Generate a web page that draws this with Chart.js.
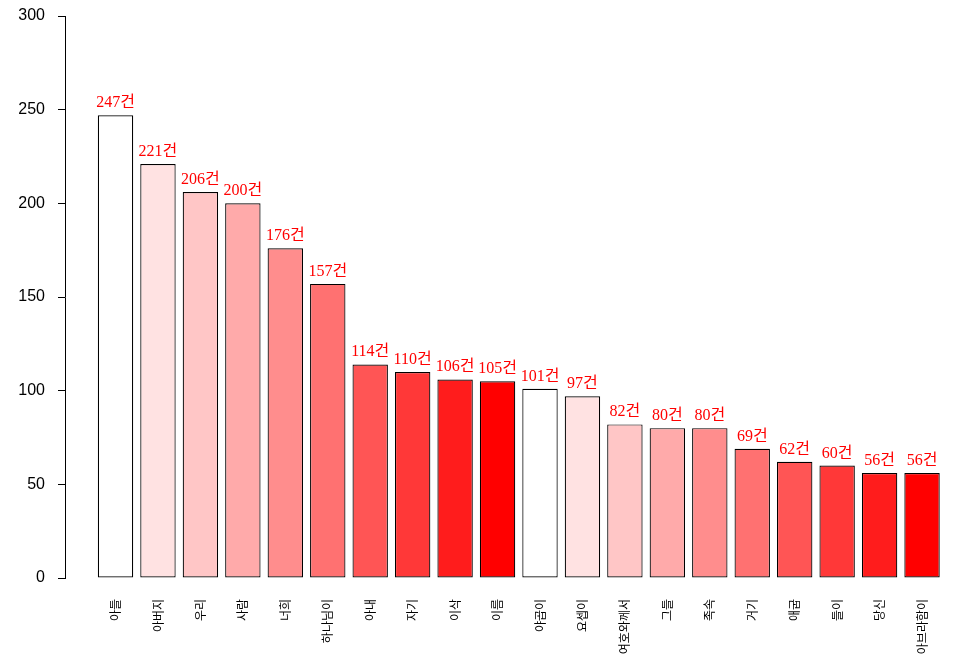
<!DOCTYPE html>
<html>
<head>
<meta charset="utf-8">
<script src="https://cdn.jsdelivr.net/npm/chart.js@4/dist/chart.umd.min.js"></script>
<style>
html,body{margin:0;padding:0;background:#fff;}
#c{display:block;}
</style>
</head>
<body>
<canvas id="c" width="956" height="666"></canvas>
<script>
const categories = ["아들","아버지","우리","사람","너희","하나님이","아내","자기","이삭","이름","야곱이","요셉이","여호와께서","그들","족속","거기","애굽","들이","당신","아브라함이"];
const counts = [247,221,206,200,176,157,114,110,106,105,101,97,82,80,80,69,62,60,56,56];
const palette = ["#FFFFFF","#FFE2E2","#FFC6C6","#FFAAAA","#FF8D8D","#FF7171","#FF5555","#FF3838","#FF1C1C","#FF0000"];
const yTicks = [0,50,100,150,200,250,300];
const unitSuffix = "건";

const labelPlugin = {
  id: 'valueLabels',
  afterDatasetsDraw(chart) {
    const ctx = chart.ctx;
    const meta = chart.getDatasetMeta(0);
    ctx.save();
    ctx.fillStyle = '#FF0000';
    ctx.font = '16px "Liberation Serif", "Times New Roman", "Noto Sans CJK KR", serif';
    ctx.textAlign = 'center';
    ctx.textBaseline = 'alphabetic';
    meta.data.forEach((el, i) => {
      ctx.fillText(counts[i] + unitSuffix, el.x, el.y - 8);
    });
    ctx.restore();
  }
};

new Chart(document.getElementById('c'), {
  type: 'bar',
  data: {
    datasets: [{
      data: counts.map((v, i) => ({x: i, y: v})),
      backgroundColor: counts.map((v, i) => palette[i % palette.length]),
      borderColor: '#000000',
      borderWidth: 1.2,
      borderSkipped: false,
      barPercentage: 0.834,
      categoryPercentage: 1.0
    }]
  },
  options: {
    responsive: false,
    animation: false,
    devicePixelRatio: 1,
    layout: {padding: {top: 16, right: 0, left: 0, bottom: 0}},
    plugins: {legend: {display: false}, tooltip: {enabled: false}},
    scales: {
      x: {
        type: 'linear',
        offset: false,
        min: -1.19,
        max: 19.8,
        afterBuildTicks(scale) {
          scale.ticks = categories.map((c, i) => ({value: i}));
        },
        afterFit(scale) {
          scale.height = 88;
          scale.paddingLeft = 0; scale.paddingRight = 0;
        },
        grid: {display: false, drawTicks: false},
        border: {display: false},
        ticks: {
          autoSkip: false,
          minRotation: 90,
          maxRotation: 90,
          padding: 21,
          color: '#000',
          font: {family: '"Noto Sans CJK KR", sans-serif', size: 12},
          callback: (v) => categories[v]
        }
      },
      y: {
        min: 0,
        max: 300,
        afterBuildTicks(scale) {
          scale.ticks = yTicks.map(v => ({value: v}));
        },
        afterFit(scale) {
          scale.width = 65;
          scale.paddingTop = 0; scale.paddingBottom = 0;
        },
        grid: {display: true, drawOnChartArea: false, drawTicks: true, tickLength: 7, color: '#000', lineWidth: 1},
        border: {display: true, color: '#000', width: 1},
        ticks: {
          padding: 13,
          color: '#000',
          font: {family: '"Liberation Sans", Arial, sans-serif', size: 16}
        }
      }
    }
  },
  plugins: [labelPlugin]
});
</script>
</body>
</html>
